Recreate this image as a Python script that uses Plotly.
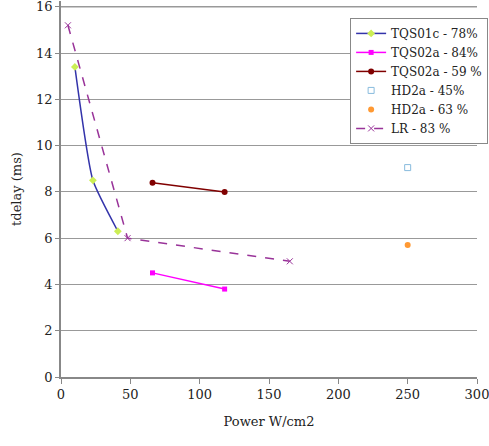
import plotly.graph_objects as go

tqs01c_x = [10, 23, 41]
tqs01c_y = [13.4, 8.5, 6.3]
tqs02a84_x = [66, 118]
tqs02a84_y = [4.5, 3.8]
tqs02a59_x = [66, 118]
tqs02a59_y = [8.4, 8.0]
hd2a45_x = [250]
hd2a45_y = [9.05]
hd2a63_x = [250]
hd2a63_y = [5.7]
lr_x = [5, 48, 165]
lr_y = [15.2, 6.0, 5.0]
x_ticks = [0, 50, 100, 150, 200, 250, 300]
y_ticks = [0, 2, 4, 6, 8, 10, 12, 14, 16]

font = "DejaVu Serif"

fig = go.Figure()
fig.add_trace(go.Scatter(x=tqs01c_x, y=tqs01c_y, name="TQS01c - 78%", mode="lines+markers",
                         line=dict(color="#3333aa", width=1.5, shape="spline", smoothing=0.5),
                         marker=dict(symbol="diamond", size=6, color="#ccee55")))
fig.add_trace(go.Scatter(x=tqs02a84_x, y=tqs02a84_y, name="TQS02a - 84%", mode="lines+markers",
                         line=dict(color="#ff00ff", width=1.5),
                         marker=dict(symbol="square", size=5, color="#ff00ff")))
fig.add_trace(go.Scatter(x=tqs02a59_x, y=tqs02a59_y, name="TQS02a - 59 %", mode="lines+markers",
                         line=dict(color="#800000", width=1.5),
                         marker=dict(symbol="circle", size=6, color="#800000")))
fig.add_trace(go.Scatter(x=hd2a45_x, y=hd2a45_y, name="HD2a - 45%", mode="markers",
                         marker=dict(symbol="square-open", size=6, color="#88bbdd")))
fig.add_trace(go.Scatter(x=hd2a63_x, y=hd2a63_y, name="HD2a - 63 %", mode="markers",
                         marker=dict(symbol="circle", size=6, color="#ff9933")))
fig.add_trace(go.Scatter(x=lr_x, y=lr_y, name="LR - 83 %", mode="lines+markers",
                         line=dict(color="#993399", width=1.5, dash="dash"),
                         marker=dict(symbol="x-thin", size=6, color="#993399",
                                     line=dict(color="#993399", width=1))))

fig.add_shape(type="line", xref="x domain", yref="y", x0=0, x1=1, y0=16, y1=16,
              line=dict(color="#999999", width=1.2), layer="below")

fig.update_layout(
    width=489, height=446,
    margin=dict(l=61, r=12, t=1, b=69, autoexpand=False),
    paper_bgcolor="white", plot_bgcolor="white",
    font=dict(family=font, size=13, color="#222222"),
    showlegend=True,
    legend=dict(x=0.695, y=0.955, xanchor="left", yanchor="top",
                bgcolor="white", bordercolor="#888888", borderwidth=1,
                font=dict(family=font, size=12), tracegroupgap=5, itemwidth=30),
    xaxis=dict(range=[0, 300], tickmode="array", tickvals=x_ticks, showgrid=False, zeroline=False,
               showline=True, linecolor="#888888", linewidth=1.5, automargin=False,
               ticks="outside", tickcolor="#888888", ticklen=5, ticklabeloverflow="allow",
               title=dict(text="Power W/cm2", font=dict(family=font, size=13), standoff=16)),
    yaxis=dict(range=[0, 16.25], tickmode="array", tickvals=y_ticks, showgrid=True,
               gridcolor="#999999", gridwidth=1.2, automargin=False, ticklabeloverflow="allow",
               zeroline=False, showline=True, linecolor="#888888", linewidth=1.5,
               ticks="outside", tickcolor="#888888", ticklen=4,
               title=dict(text="tdelay (ms)", font=dict(family=font, size=13), standoff=12)),
)

fig.write_html("out.html", config={"displayModeBar": False},
               post_script="document.body.style.margin='0';document.body.style.padding='0';")
